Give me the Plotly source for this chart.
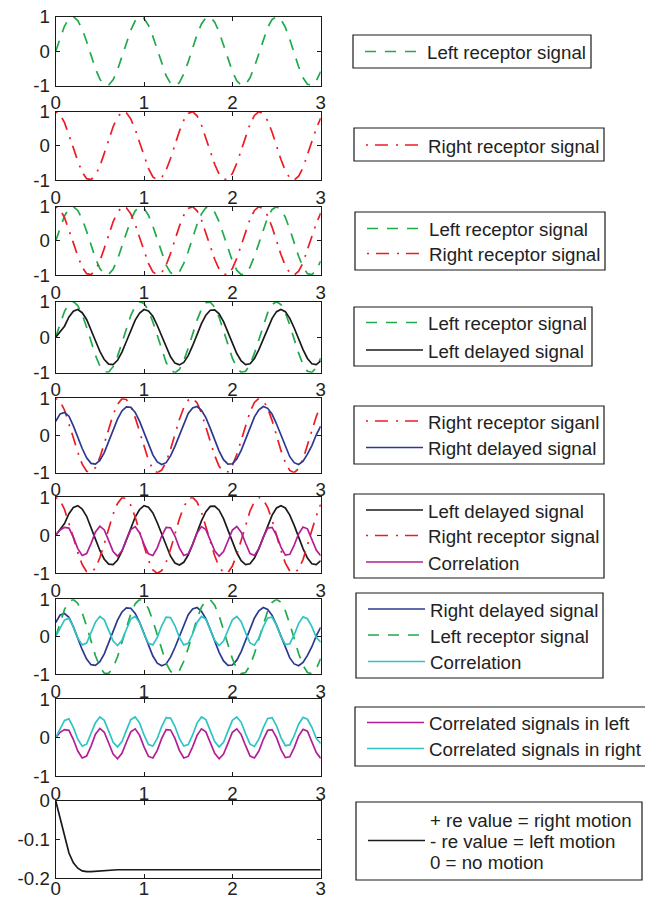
import plotly.graph_objects as go

W, H = 645, 903

# sampling instants (s)
t = [round(0.05 * i, 2) for i in range(61)]

left_receptor = [
    0.00, 0.40, 0.73, 0.94, 1.00, 0.89, 0.64, 0.28, -0.13, -0.51,
    -0.81, -0.98, -0.98, -0.83, -0.54, -0.16, 0.25, 0.61, 0.88, 1.00,
    0.95, 0.75, 0.43, 0.03, -0.37, -0.71, -0.93, -1.00, -0.91, -0.66,
    -0.31, 0.09, 0.48, 0.79, 0.97, 0.99, 0.84, 0.56, 0.19, -0.22,
    -0.59, -0.86, -0.99, -0.96, -0.77, -0.45, -0.06, 0.34, 0.69, 0.92,
    1.00, 0.92, 0.69, 0.34, -0.06, -0.45, -0.77, -0.96, -0.99, -0.86,
    -0.59,
]

right_receptor = [
    1.00, 0.92, 0.68, 0.34, -0.06, -0.45, -0.77, -0.96, -0.99, -0.86,
    -0.59, -0.22, 0.19, 0.56, 0.84, 0.99, 0.97, 0.79, 0.48, 0.09,
    -0.31, -0.66, -0.91, -1.00, -0.93, -0.71, -0.37, 0.03, 0.43, 0.75,
    0.95, 1.00, 0.88, 0.61, 0.25, -0.16, -0.54, -0.83, -0.98, -0.98,
    -0.81, -0.51, -0.13, 0.28, 0.64, 0.89, 1.00, 0.94, 0.73, 0.40,
    0.00, -0.40, -0.73, -0.94, -1.00, -0.89, -0.64, -0.28, 0.13, 0.51,
    0.81,
]

left_delayed = [
    0.00, 0.15, 0.31, 0.57, 0.73, 0.78, 0.69, 0.50, 0.22, -0.10,
    -0.40, -0.63, -0.76, -0.77, -0.65, -0.42, -0.12, 0.19, 0.48, 0.68,
    0.78, 0.74, 0.59, 0.33, 0.02, -0.29, -0.55, -0.73, -0.78, -0.71,
    -0.52, -0.24, 0.07, 0.38, 0.62, 0.76, 0.77, 0.66, 0.44, 0.15,
    -0.17, -0.46, -0.67, -0.77, -0.75, -0.60, -0.35, -0.05, 0.26, 0.53,
    0.72, 0.78, 0.72, 0.53, 0.26, -0.05, -0.35, -0.60, -0.75, -0.77,
    -0.67,
]

right_delayed = [
    0.38, 0.58, 0.62, 0.52, 0.26, -0.05, -0.35, -0.60, -0.75, -0.77,
    -0.67, -0.46, -0.17, 0.15, 0.44, 0.66, 0.77, 0.76, 0.62, 0.38,
    0.07, -0.24, -0.52, -0.71, -0.78, -0.73, -0.55, -0.29, 0.02, 0.33,
    0.59, 0.74, 0.78, 0.68, 0.48, 0.19, -0.12, -0.42, -0.65, -0.77,
    -0.76, -0.63, -0.40, -0.10, 0.22, 0.50, 0.69, 0.78, 0.73, 0.57,
    0.31, 0.00, -0.31, -0.57, -0.73, -0.78, -0.69, -0.50, -0.27, 0.02,
    0.25,
]

corr_left = [
    0.00, 0.14, 0.21, 0.19, -0.05, -0.35, -0.53, -0.48, -0.22, 0.09,
    0.24, 0.14, -0.14, -0.43, -0.55, -0.41, -0.12, 0.15, 0.23, 0.06,
    -0.24, -0.49, -0.53, -0.33, -0.02, 0.21, 0.20, -0.02, -0.33, -0.53,
    -0.49, -0.24, 0.06, 0.23, 0.15, -0.12, -0.41, -0.55, -0.43, -0.15,
    0.14, 0.23, 0.08, -0.21, -0.48, -0.53, -0.35, -0.05, 0.19, 0.21,
    0.00, -0.31, -0.52, -0.50, -0.26, 0.04, 0.22, 0.17, -0.09, -0.39,
    -0.54,
]

corr_right = [
    0.00, 0.23, 0.45, 0.49, 0.26, -0.04, -0.22, -0.17, 0.09, 0.39,
    0.54, 0.45, 0.17, -0.12, -0.24, -0.10, 0.19, 0.47, 0.54, 0.38,
    0.07, -0.18, -0.22, -0.02, 0.29, 0.52, 0.51, 0.29, -0.02, -0.22,
    -0.18, 0.07, 0.38, 0.54, 0.47, 0.19, -0.10, -0.24, -0.12, 0.17,
    0.45, 0.54, 0.40, 0.10, -0.17, -0.23, -0.04, 0.26, 0.50, 0.52,
    0.31, 0.00, -0.21, -0.19, 0.05, 0.35, 0.53, 0.48, 0.27, -0.02,
    -0.15,
]

motion = [
    0.000, -0.045, -0.095, -0.135, -0.160, -0.174, -0.181, -0.183, -0.183, -0.182,
    -0.181, -0.180, -0.179, -0.178, -0.178, -0.178, -0.178, -0.178, -0.178, -0.178,
    -0.178, -0.178, -0.178, -0.178, -0.178, -0.178, -0.178, -0.178, -0.178, -0.178,
    -0.178, -0.178, -0.178, -0.178, -0.178, -0.178, -0.178, -0.178, -0.178, -0.178,
    -0.178, -0.178, -0.178, -0.178, -0.178, -0.178, -0.178, -0.178, -0.178, -0.178,
    -0.178, -0.178, -0.178, -0.178, -0.178, -0.178, -0.178, -0.178, -0.178, -0.178,
    -0.178,
]

x_ticks = [0, 1, 2, 3]
signal_ticks = [-1, 0, 1]
signal_ticktext = ["-1", "0", "1"]
motion_ticks = [-0.2, -0.1, 0]
motion_ticktext = ["-0.2", "-0.1", "0"]

GREEN = "#1fab4a"
RED = "#ec1c24"
BLACK = "#1a1a1a"
BLUE = "#2b3990"
MAGENTA = "#b41e94"
CYAN = "#2ec4c4"
DASH = "11px,9px"
DASHDOT = "2px,7px,13px,8px"
LW = 1.7

FONT = "Liberation Sans, Arial, Helvetica, sans-serif"
FS = 18.7
TEXT = "#222222"

# (name, values, colour, dash) for each panel, top to bottom
panels = [
    [("Left receptor signal", left_receptor, GREEN, DASH)],
    [("Right receptor signal", right_receptor, RED, DASHDOT)],
    [("Left receptor signal", left_receptor, GREEN, DASH),
     ("Right receptor signal", right_receptor, RED, DASHDOT)],
    [("Left receptor signal", left_receptor, GREEN, DASH),
     ("Left delayed signal", left_delayed, BLACK, "solid")],
    [("Right receptor siganl", right_receptor, RED, DASHDOT),
     ("Right delayed signal", right_delayed, BLUE, "solid")],
    [("Left delayed signal", left_delayed, BLACK, "solid"),
     ("Right receptor signal", right_receptor, RED, DASHDOT),
     ("Correlation", corr_left, MAGENTA, "solid")],
    [("Right delayed signal", right_delayed, BLUE, "solid"),
     ("Left receptor signal", left_receptor, GREEN, DASH),
     ("Correlation", corr_right, CYAN, "solid")],
    [("Correlated signals in left", corr_left, MAGENTA, "solid"),
     ("Correlated signals in right", corr_right, CYAN, "solid")],
    [("+ re value = right motion<br>- re value = left motion<br>0 = no motion",
      motion, BLACK, "solid")],
]

# panel frames, pixel rows (top, bottom)
frames = [
    (16.7, 85.7), (111.7, 180.0), (206.7, 275.0), (301.7, 372.7),
    (398.3, 472.7), (497.3, 573.3), (599.3, 674.0), (699.3, 776.0),
    (800.7, 878.3),
]
X_LEFT, X_RIGHT = 55.7, 320.7

# key boxes (left, top, right, bottom) and the row of each entry, in pixels
key_boxes = [
    (353, 35, 591, 68), (354, 128, 604, 161), (355, 212, 605, 270),
    (354, 307, 592, 366), (354, 406, 604, 464), (354, 494, 604, 578),
    (356, 593, 603, 678), (355, 707, 648, 766), (356, 802, 642, 880),
]
key_rows = [
    [51.5], [145.0], [228.5, 253.5], [322.5, 350.0], [421.0, 447.5],
    [510.0, 535.5, 562.0], [609.0, 635.0, 661.5], [722.5, 748.5], [840.5],
]
SAMPLE_START, SAMPLE_END, TEXT_OFFSET = 12, 69, 72
LINE_STEP = 21.3


def px_x(v):
    return v / W


def px_y(v):
    return 1 - v / H


fig = go.Figure()
layout = dict(
    width=W, height=H,
    margin=dict(l=0, r=0, t=0, b=0, autoexpand=False),
    paper_bgcolor="white", plot_bgcolor="white",
    font=dict(family=FONT, size=FS, color=TEXT),
    showlegend=False,
)
shapes, annotations = [], []

for i, (series, (top, bot)) in enumerate(zip(panels, frames), start=1):
    sfx = "" if i == 1 else str(i)
    for name, vals, col, dash in series:
        fig.add_trace(go.Scatter(
            x=t, y=vals, mode="lines", name=name.replace("<br>", " "),
            line=dict(color=col, width=LW, dash=dash),
            xaxis="x" + sfx, yaxis="y" + sfx,
        ))

    is_motion = i == 9
    axis_common = dict(
        showline=True, linecolor=BLACK, linewidth=1.3, mirror="ticks",
        ticks="inside", ticklen=4, tickwidth=1, tickcolor=BLACK,
        showgrid=False, zeroline=False,
        tickfont=dict(family=FONT, size=FS, color=TEXT),
    )
    layout["xaxis" + sfx] = dict(
        axis_common,
        domain=[px_x(X_LEFT), px_x(X_RIGHT)],
        range=[0, 3], tickvals=x_ticks,
        anchor="y" + sfx, ticklabelstandoff=-7 if is_motion else 0,
    )
    layout["yaxis" + sfx] = dict(
        axis_common,
        domain=[px_y(bot), px_y(top)],
        range=[-0.2, 0] if is_motion else [-1, 1],
        tickvals=motion_ticks if is_motion else signal_ticks,
        ticktext=motion_ticktext if is_motion else signal_ticktext,
        anchor="x" + sfx, ticklabelstandoff=1,
    )

    # key box for this panel
    bx0, by0, bx1, by1 = key_boxes[i - 1]
    shapes.append(dict(
        type="rect", xref="paper", yref="paper",
        x0=px_x(bx0), x1=px_x(bx1), y0=px_y(by1), y1=px_y(by0),
        line=dict(color=BLACK, width=1.2), fillcolor="white", layer="above",
    ))
    for (name, vals, col, dash), ry in zip(series, key_rows[i - 1]):
        shapes.append(dict(
            type="line", xref="paper", yref="paper",
            x0=px_x(bx0 + SAMPLE_START), x1=px_x(bx0 + SAMPLE_END),
            y0=px_y(ry), y1=px_y(ry),
            line=dict(color=col, width=LW, dash=dash), layer="above",
        ))
        parts = name.split("<br>")
        n = len(parts)
        for k, part in enumerate(parts):
            ty = ry + 1 + (k - (n - 1) / 2) * LINE_STEP
            annotations.append(dict(
                text=part, xref="paper", yref="paper",
                x=px_x(bx0 + TEXT_OFFSET), y=px_y(ty),
                xanchor="left", yanchor="middle", showarrow=False,
                font=dict(family=FONT, size=FS, color=TEXT),
            ))

layout["shapes"] = shapes
layout["annotations"] = annotations
fig.update_layout(**layout)
fig.write_html("out.html")
